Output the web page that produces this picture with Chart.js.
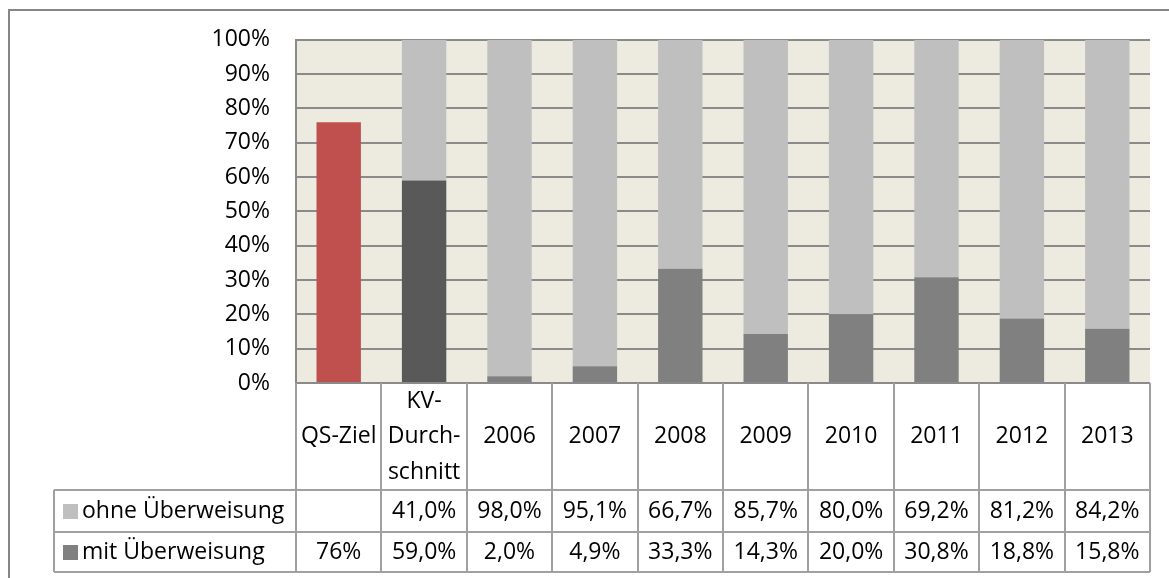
<!DOCTYPE html>
<html>
<head>
<meta charset="utf-8">
<script src="https://cdn.jsdelivr.net/npm/chart.js@4"></script>
<style>
  html, body { margin: 0; padding: 0; background: #fff; }
  #wrap { width: 1169px; height: 578px; position: relative; }
</style>
</head>
<body>
<div id="wrap"><canvas id="chart"></canvas></div>
<script>
// ── Data ─────────────────────────────────────────────────────────────────────

const CATEGORIES = [['QS-Ziel'], ['KV-', 'Durch-', 'schnitt'], ['2006'], ['2007'], ['2008'], ['2009'], ['2010'], ['2011'], ['2012'], ['2013']];
const MIT  = [76, 59.0, 2.0, 4.9, 33.3, 14.3, 20.0, 30.8, 18.8, 15.8];
const OHNE = [null, 41.0, 98.0, 95.1, 66.7, 85.7, 80.0, 69.2, 81.2, 84.2];
const SERIES_NAMES = ['ohne Überweisung', 'mit Überweisung'];

const C_RED    = '#C0504D';
const C_KV     = '#595959';
const C_MIT    = '#808080';
const C_OHNE   = '#BFBFBF';
const C_GRID   = '#8A8A8A';
const C_TABLE  = '#A0A0A0';
const C_PLOTBG = '#EDEBE0';
const FONT     = '"Open Sans"';
const FSIZE    = 23;

const mitColors = MIT.map((v, i) => i === 0 ? C_RED : i === 1 ? C_KV : C_MIT);

function fmt(v, i) {
  if (v === null) return '';
  if (i === 0) return Math.round(v) + '%';
  return v.toFixed(1).replace('.', ',') + '%';
}

// ── Plugins: plot background, outer frame, data table ───────────────────────

const frame = {
  id: 'frame',
  beforeDraw(chart) {
    const { ctx, chartArea: a } = chart;
    ctx.save();
    ctx.fillStyle = C_PLOTBG;
    ctx.fillRect(a.left, a.top, a.right - a.left, a.bottom - a.top);
    ctx.strokeStyle = '#868686';
    ctx.lineWidth = 2;
    ctx.beginPath();
    ctx.moveTo(9, 578); ctx.lineTo(9, 10); ctx.lineTo(1169, 10);
    ctx.stroke();
    ctx.restore();
  }
};

const dataTable = {
  id: 'dataTable',
  afterDraw(chart) {
    const { ctx, chartArea: a } = chart;
    const x = chart.scales.x;
    const n = CATEGORIES.length;
    const w = (a.right - a.left) / n;
    const top = a.bottom, hdrBottom = 490, rowMid = 532, bottom = 572, tableLeft = 54;

    ctx.save();
    ctx.strokeStyle = C_TABLE;
    ctx.lineWidth = 2;
    ctx.beginPath();
    // vertical lines at category boundaries
    for (let i = 0; i <= n; i++) {
      const px = Math.round(a.left + i * w);
      ctx.moveTo(px, top); ctx.lineTo(px, bottom);
    }
    // horizontal lines
    ctx.moveTo(tableLeft, hdrBottom); ctx.lineTo(a.right, hdrBottom);
    ctx.moveTo(tableLeft, rowMid);    ctx.lineTo(a.right, rowMid);
    ctx.moveTo(tableLeft, bottom);    ctx.lineTo(a.right, bottom);
    ctx.moveTo(tableLeft, hdrBottom); ctx.lineTo(tableLeft, bottom);
    ctx.stroke();

    ctx.fillStyle = '#000';
    ctx.font = `${FSIZE}px ${FONT}`;
    ctx.textAlign = 'center';
    ctx.textBaseline = 'middle';

    // header labels
    CATEGORIES.forEach((lines, i) => {
      const cx = x.getPixelForTick(i);
      const lh = 35.5;
      const y0 = (top + hdrBottom) / 2 - (lines.length - 1) * lh / 2;
      lines.forEach((t, j) => ctx.fillText(t, cx, y0 + j * lh));
    });

    // value rows
    const rows = [[OHNE, C_OHNE, (hdrBottom + rowMid) / 2], [MIT, C_MIT, (rowMid + bottom) / 2]];
    rows.forEach(([vals, col, cy], r) => {
      vals.forEach((v, i) => ctx.fillText(fmt(v, i), x.getPixelForTick(i), cy));
      ctx.fillStyle = col;
      ctx.fillRect(63, cy - 7, 15, 15);
      ctx.fillStyle = '#000';
      ctx.textAlign = 'left';
      ctx.fillText(SERIES_NAMES[r], 82, cy);
      ctx.textAlign = 'center';
    });
    ctx.restore();
  }
};

// ── Chart ────────────────────────────────────────────────────────────────────

new Chart(document.getElementById('chart'), {
  type: 'bar',
  data: {
    labels: CATEGORIES,
    datasets: [
      { label: SERIES_NAMES[1], data: MIT,  backgroundColor: mitColors, barPercentage: 0.52, categoryPercentage: 1 },
      { label: SERIES_NAMES[0], data: OHNE, backgroundColor: C_OHNE,    barPercentage: 0.52, categoryPercentage: 1 },
    ]
  },
  options: {
    responsive: true,
    maintainAspectRatio: false,
    animation: false,
    layout: { padding: { top: 39, right: 19, bottom: 195, left: 0 } },
    plugins: { legend: { display: false }, tooltip: { enabled: false } },
    scales: {
      x: { stacked: true, display: false },
      y: {
        stacked: true,
        min: 0, max: 100,
        afterFit: s => { s.width = 296; },
        ticks: { stepSize: 10, callback: v => v + '%', color: '#000', padding: 26,
                 font: { family: 'Open Sans', size: FSIZE } },
        grid: { color: C_GRID, lineWidth: 2, drawTicks: false },
        border: { color: C_GRID, width: 2 }
      }
    }
  },
  plugins: [frame, dataTable]
});
</script>
</body>
</html>
